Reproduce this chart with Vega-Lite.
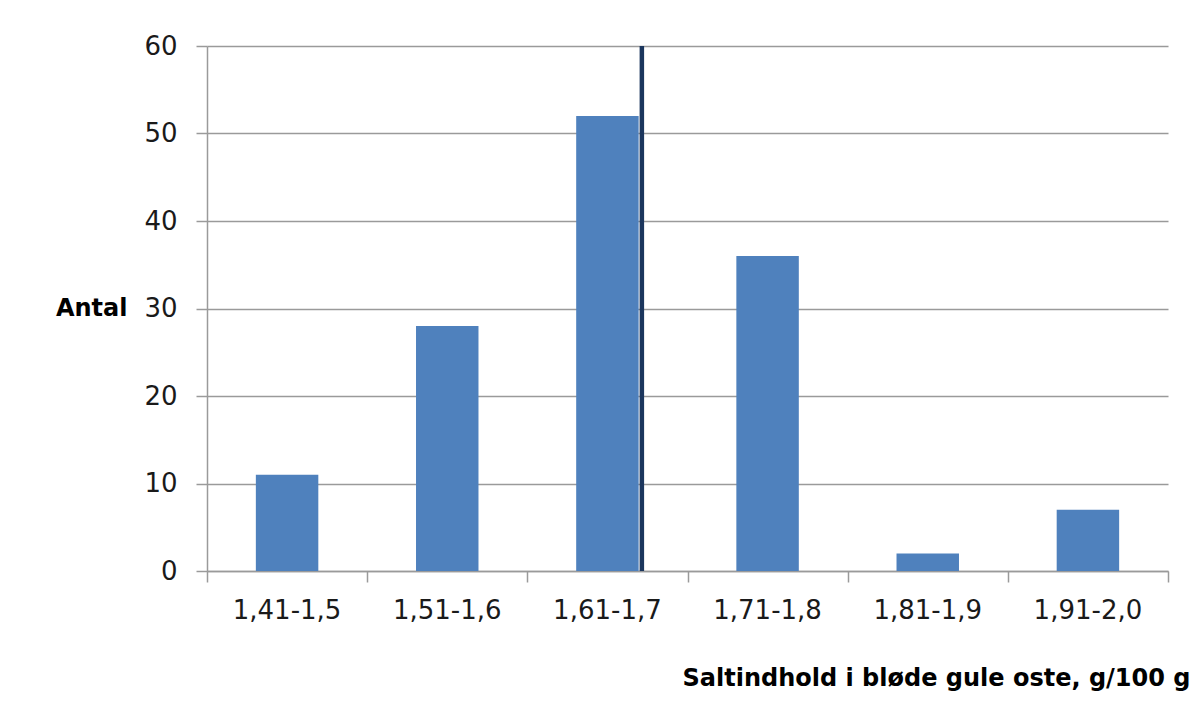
{
  "$schema": "https://vega.github.io/schema/vega-lite/v6.json",
  "width": 961,
  "height": 525,
  "autosize": {"type": "none"},
  "padding": {"left": 207, "top": 46, "right": 27, "bottom": 149},
  "background": "white",
  "config": {"view": {"stroke": null}, "font": "DejaVu Sans"},
  "datasets": {
    "bins": [
      {"interval": "1,41-1,5", "count": 11},
      {"interval": "1,51-1,6", "count": 28},
      {"interval": "1,61-1,7", "count": 52},
      {"interval": "1,71-1,8", "count": 36},
      {"interval": "1,81-1,9", "count": 2},
      {"interval": "1,91-2,0", "count": 7}
    ],
    "mean": [{"salt": 1.6715}]
  },
  "layer": [
    {
      "data": {"name": "bins"},
      "mark": {"type": "bar", "color": "#4F81BD", "width": {"band": 0.39}},
      "encoding": {
        "x": {
          "field": "interval", "type": "ordinal", "sort": null,
          "scale": {"paddingInner": 0, "paddingOuter": 0},
          "axis": {
            "title": "Saltindhold i bløde gule oste, g/100 g",
            "labelAngle": 0, "ticks": false, "tickSize": 0,
            "domainColor": "#9a9a9a", "domainWidth": 1.5,
            "labelFontSize": 26, "labelColor": "#1a1a1a", "labelPadding": 26,
            "titleFontSize": 24, "titleFontWeight": "bold", "titleColor": "#000000",
            "titleAlign": "right", "titleAnchor": null, "titleX": 983, "titleY": 107, "titleBaseline": "middle"
          }
        },
        "y": {
          "field": "count", "type": "quantitative",
          "scale": {"domain": [0, 60], "nice": false},
          "axis": {
            "values": [0, 10, 20, 30, 40, 50, 60],
            "title": "Antal", "titleAngle": 0, "titleFontSize": 24, "titleFontWeight": "bold", "titleColor": "#000000",
            "titleAlign": "right", "titleAnchor": null, "titleX": -80, "titleY": 262, "titleBaseline": "middle",
            "grid": true, "gridColor": "#9a9a9a", "gridWidth": 1.5,
            "domainColor": "#9a9a9a", "domainWidth": 1.5,
            "tickColor": "#9a9a9a", "tickWidth": 1.5, "tickSize": 11,
            "labelFontSize": 26, "labelColor": "#1a1a1a", "labelPadding": 19
          }
        }
      }
    },
    {
      "data": {"name": "mean"},
      "mark": {"type": "rule", "color": "#1B365D", "strokeWidth": 4.5},
      "encoding": {
        "x": {
          "field": "salt", "type": "quantitative",
          "scale": {"domain": [1.4, 2.0], "nice": false, "zero": false},
          "axis": {
            "orient": "bottom",
            "values": [1.4, 1.5, 1.6, 1.7, 1.8, 1.9, 2.0],
            "labels": false, "domain": false, "grid": false, "title": null,
            "ticks": true, "tickSize": 11, "tickColor": "#9a9a9a", "tickWidth": 1.5
          }
        }
      }
    }
  ],
  "resolve": {"scale": {"x": "independent"}}
}
